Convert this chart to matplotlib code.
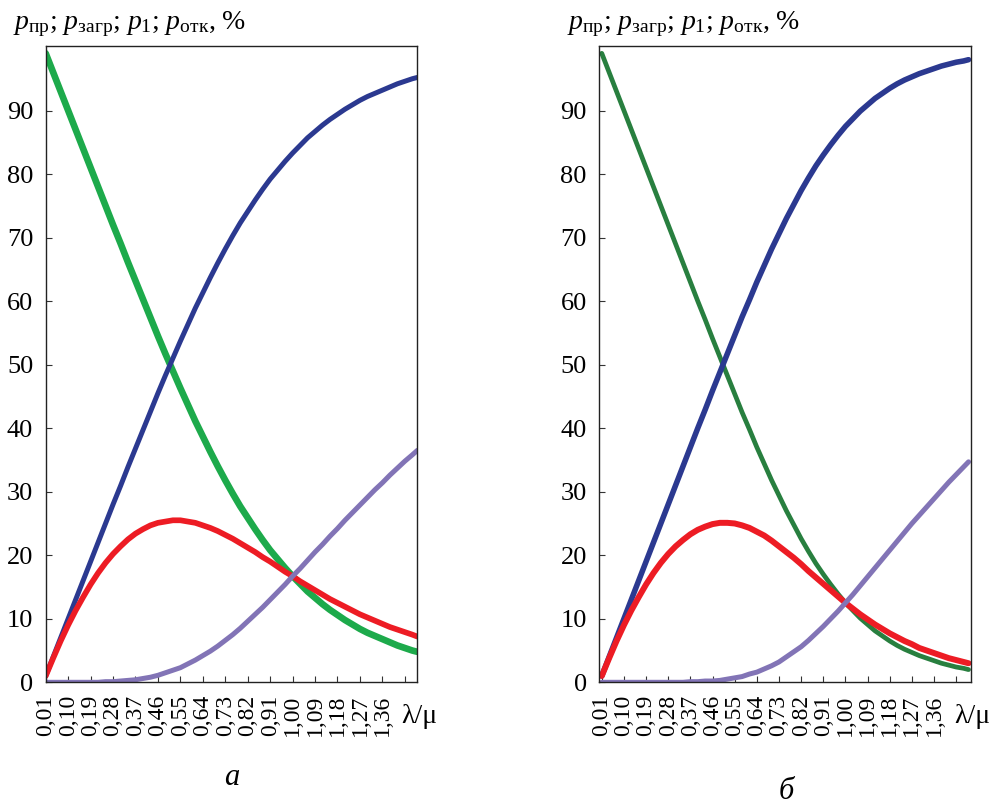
import numpy as np
import matplotlib
matplotlib.use("Agg")
import matplotlib.pyplot as plt

plt.rcParams['font.family'] = ['Liberation Serif', 'DejaVu Serif']
plt.rcParams['mathtext.fontset'] = 'custom'
plt.rcParams['mathtext.rm'] = 'Liberation Serif'
plt.rcParams['mathtext.it'] = 'Liberation Serif:italic'

#------------------------------ данные ------------------------------#
lam_mu = [0.01, 0.04, 0.07, 0.10, 0.13, 0.16, 0.19, 0.22, 0.25, 0.28, 0.31, 0.34, 0.37,
          0.40, 0.43, 0.46, 0.49, 0.52, 0.55, 0.58, 0.61, 0.64, 0.67, 0.70, 0.73, 0.76,
          0.79, 0.82, 0.85, 0.88, 0.91, 0.94, 0.97, 1.00, 1.03, 1.06, 1.09, 1.12, 1.15,
          1.18, 1.21, 1.24, 1.27, 1.30, 1.33, 1.36, 1.39, 1.42, 1.45, 1.48, 1.50]

# панель а
green_a = [99.0, 96.0, 93.0, 90.0, 87.0, 84.0, 81.0, 78.0, 75.0, 72.0, 69.1, 66.1, 63.2,
           60.3, 57.4, 54.5, 51.7, 49.0, 46.3, 43.7, 41.1, 38.7, 36.3, 34.0, 31.8, 29.7,
           27.7, 25.9, 24.1, 22.4, 20.8, 19.4, 18.0, 16.7, 15.5, 14.3, 13.3, 12.3, 11.4,
           10.6, 9.8, 9.1, 8.4, 7.8, 7.3, 6.8, 6.3, 5.8, 5.4, 5.0, 4.8]
blue_a = [1.0, 4.0, 7.0, 10.0, 13.0, 16.0, 19.0, 22.0, 25.0, 28.0, 30.9, 33.9, 36.8,
          39.7, 42.6, 45.5, 48.3, 51.0, 53.7, 56.3, 58.9, 61.3, 63.7, 66.0, 68.2, 70.3,
          72.3, 74.1, 75.9, 77.6, 79.2, 80.6, 82.0, 83.3, 84.5, 85.7, 86.7, 87.7, 88.6,
          89.4, 90.2, 90.9, 91.6, 92.2, 92.7, 93.2, 93.7, 94.2, 94.6, 95.0, 95.2]
red_a = [1.0, 3.8, 6.5, 9.0, 11.3, 13.4, 15.4, 17.2, 18.8, 20.2, 21.4, 22.5, 23.4,
         24.1, 24.7, 25.1, 25.3, 25.5, 25.5, 25.3, 25.1, 24.7, 24.3, 23.8, 23.2, 22.6,
         21.9, 21.2, 20.5, 19.7, 19.0, 18.2, 17.4, 16.7, 15.9, 15.2, 14.5, 13.8, 13.1,
         12.5, 11.9, 11.3, 10.7, 10.2, 9.7, 9.2, 8.7, 8.3, 7.9, 7.5, 7.2]
purple_a = [0.0, 0.0, 0.0, 0.0, 0.0, 0.0, 0.0, 0.0, 0.1, 0.1, 0.2, 0.3, 0.4,
            0.6, 0.8, 1.1, 1.5, 1.9, 2.3, 2.9, 3.5, 4.2, 4.9, 5.7, 6.6, 7.5,
            8.5, 9.6, 10.7, 11.8, 13.0, 14.2, 15.4, 16.7, 17.9, 19.2, 20.5, 21.7, 23.0,
            24.2, 25.5, 26.7, 27.9, 29.1, 30.3, 31.4, 32.6, 33.7, 34.8, 35.8, 36.5]

# панель б
green_b = [99.0, 96.0, 93.0, 90.0, 87.0, 84.0, 81.0, 78.0, 75.0, 72.0, 69.0, 66.0, 63.0,
           60.0, 57.1, 54.1, 51.2, 48.3, 45.4, 42.5, 39.8, 37.0, 34.4, 31.8, 29.4, 27.0,
           24.8, 22.6, 20.6, 18.7, 17.0, 15.4, 13.9, 12.5, 11.3, 10.1, 9.1, 8.1, 7.3,
           6.5, 5.8, 5.2, 4.7, 4.2, 3.8, 3.4, 3.0, 2.7, 2.4, 2.2, 2.0]
blue_b = [1.0, 4.0, 7.0, 10.0, 13.0, 16.0, 19.0, 22.0, 25.0, 28.0, 31.0, 34.0, 37.0,
          40.0, 42.9, 45.9, 48.8, 51.7, 54.6, 57.5, 60.2, 63.0, 65.6, 68.2, 70.6, 73.0,
          75.2, 77.4, 79.4, 81.3, 83.0, 84.6, 86.1, 87.5, 88.7, 89.9, 90.9, 91.9, 92.7,
          93.5, 94.2, 94.8, 95.3, 95.8, 96.2, 96.6, 97.0, 97.3, 97.6, 97.8, 98.0]
red_b = [1.0, 3.8, 6.5, 9.0, 11.3, 13.4, 15.4, 17.2, 18.8, 20.2, 21.4, 22.4, 23.3,
         24.0, 24.5, 24.9, 25.1, 25.1, 25.0, 24.7, 24.3, 23.7, 23.1, 22.3, 21.4, 20.5,
         19.6, 18.6, 17.5, 16.5, 15.5, 14.5, 13.5, 12.5, 11.6, 10.7, 9.9, 9.1, 8.4,
         7.7, 7.1, 6.5, 6.0, 5.4, 5.0, 4.6, 4.2, 3.8, 3.5, 3.2, 3.0]
purple_b = [0.0, 0.0, 0.0, 0.0, 0.0, 0.0, 0.0, 0.0, 0.0, 0.0, 0.0, 0.0, 0.1,
            0.1, 0.2, 0.2, 0.3, 0.5, 0.7, 0.9, 1.3, 1.6, 2.1, 2.6, 3.2, 4.0,
            4.8, 5.6, 6.6, 7.7, 8.8, 10.0, 11.2, 12.5, 13.8, 15.2, 16.6, 18.0, 19.4,
            20.8, 22.2, 23.6, 25.0, 26.3, 27.6, 28.9, 30.2, 31.5, 32.7, 33.9, 34.7]

tick_pos = [0.01, 0.10, 0.19, 0.28, 0.37, 0.46, 0.55, 0.64, 0.73, 0.82, 0.91,
            1.00, 1.09, 1.18, 1.27, 1.36, 1.45]
tick_lab = ["0,01", "0,10", "0,19", "0,28", "0,37", "0,46", "0,55", "0,64", "0,73",
            "0,82", "0,91", "1,00", "1,09", "1,18", "1,27", "1,36", ""]
y_ticks = [0, 10, 20, 30, 40, 50, 60, 70, 80, 90]

ylab = r'$p_{\mathrm{пр}}$; $p_{\mathrm{загр}}$; $p_1$; $p_{\mathrm{отк}}$, %'

#------------------------------ рисунок ------------------------------#
fig = plt.figure(figsize=(9.98, 8.05), dpi=100)
W, H = 998, 805

panels = [
    # (левый край, правый край, xlim, данные, толщины, зелёный, подпись, её место, место подписи оси y, место λ/μ)
    (45.7, 417.3, (0.01, 1.50), (green_a, blue_a, red_a, purple_a), (4.8, 3.6, 4.1, 3.6),
     '#1daa4b', 'а', (232, 777), (13, 24), (401, 716)),
    (599.3, 971.0, (0.0, 1.51), (green_b, blue_b, red_b, purple_b), (3.4, 4.0, 4.3, 3.6),
     '#287f3f', 'б', (786, 791), (567, 24), (954, 716)),
]

top, bottom = 45.7, 682.3
for left, right, xl, data, lws, gcol, cap, cap_xy, lab_xy, lm_xy in panels:
    ax = fig.add_axes([left / W, 1 - bottom / H, (right - left) / W, (bottom - top) / H])
    g, b, r, p = data
    ax.plot(lam_mu, g, color=gcol, lw=lws[0], solid_capstyle='round', solid_joinstyle='round')
    ax.plot(lam_mu, b, color='#2b3990', lw=lws[1], solid_capstyle='round', solid_joinstyle='round')
    ax.plot(lam_mu, r, color='#ed1c24', lw=lws[2], solid_capstyle='round', solid_joinstyle='round')
    ax.plot(lam_mu, p, color='#8274b6', lw=lws[3], solid_capstyle='round', solid_joinstyle='round')

    ax.set_xlim(*xl)
    ax.set_ylim(0, 100.2)
    ax.set_xticks(tick_pos)
    ax.set_xticklabels(tick_lab, rotation=90, fontsize=17)
    ax.set_yticks(y_ticks)
    ax.set_yticklabels([str(v) for v in y_ticks], fontsize=19)
    ax.tick_params(axis='both', direction='in', length=4.5, width=0.8, color='#333333')
    ax.tick_params(axis='x', pad=9)
    ax.tick_params(axis='y', pad=9)
    for s in ax.spines.values():
        s.set_linewidth(1.0)
        s.set_color('#222222')

    fig.text(lab_xy[0] / W, 1 - lab_xy[1] / H, ylab, fontsize=20, va='center', ha='left')
    fig.text(lm_xy[0] / W, 1 - lm_xy[1] / H, 'λ/μ', fontsize=20, va='center', ha='left')
    fig.text(cap_xy[0] / W, 1 - cap_xy[1] / H, cap, fontsize=22, style='italic',
             va='center', ha='center')

fig.savefig('out.png', dpi=100)
